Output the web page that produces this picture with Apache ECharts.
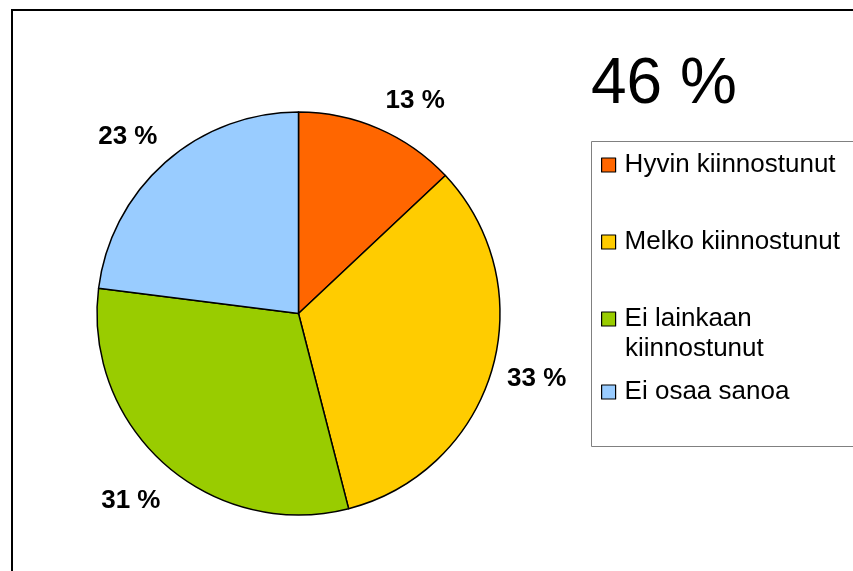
<!DOCTYPE html>
<html>
<head>
<meta charset="utf-8">
<script src="https://cdn.jsdelivr.net/npm/echarts@6/dist/echarts.min.js"></script>
<style>
html,body{margin:0;padding:0;background:#fff;}
#chart{width:853px;height:571px;}
</style>
</head>
<body>
<div id="chart"></div>
<script>
var categories = ['Hyvin kiinnostunut', 'Melko kiinnostunut', 'Ei lainkaan kiinnostunut', 'Ei osaa sanoa'];
var values = [13, 33, 31, 23];
var colors = ['#FF6600', '#FFCC00', '#99CC00', '#99CCFF'];
var headline = '46 %';

var FONT = '"Liberation Sans", Arial, sans-serif';
var chart = echarts.init(document.getElementById('chart'));

var pieData = categories.map(function (c, i) {
  return { name: c, value: values[i], itemStyle: { color: colors[i] } };
});
var labelOffsets = [[19, 13], [2, -3], [-5, 3], [-8, 8]];
var labelData = categories.map(function (c, i) {
  return { name: c, value: values[i], label: { offset: labelOffsets[i] } };
});

// split long legend names before their last word
function splitName(name) {
  if (name.length <= 20) return [name];
  var k = name.lastIndexOf(' ');
  return [name.slice(0, k), name.slice(k + 1)];
}

var legendTops = [152, 229, 306, 379];
var legends = categories.map(function (c, i) {
  return {
    data: [c],
    left: 601,
    top: legendTops[i],
    orient: 'vertical',
    itemWidth: 14,
    itemHeight: 14,
    padding: 0,
    selectedMode: false,
    icon: 'rect',
    itemStyle: { borderColor: '#000', borderWidth: 1.2 },
    textStyle: { fontSize: 26, fontFamily: FONT, color: '#000', padding: [0, 0, 0, 4] },
    formatter: function (name) { return splitName(name)[0]; }
  };
});

var extraLines = [];
categories.forEach(function (c, i) {
  var parts = splitName(c);
  if (parts.length > 1) {
    extraLines.push({
      type: 'text', x: 625, y: legendTops[i] + 13 + 30,
      style: { text: parts[1], fontSize: 26, fontFamily: FONT, fill: '#000', verticalAlign: 'middle' }
    });
  }
});

chart.setOption({
  animation: false,
  backgroundColor: '#fff',
  title: {
    text: headline, left: 591, top: 53, padding: 0,
    textStyle: { fontSize: 64, fontWeight: 'normal', fontFamily: FONT, color: '#000' }
  },
  legend: legends,
  graphic: [
    { type: 'rect', shape: { x: 12, y: 10, width: 900, height: 620 }, style: { fill: 'none', stroke: '#000', lineWidth: 2 }, silent: true },
    { type: 'rect', shape: { x: 591.5, y: 141.5, width: 300, height: 305 }, style: { fill: 'none', stroke: '#808080', lineWidth: 1 }, silent: true }
  ].concat(extraLines),
  series: [
    {
      type: 'pie',
      center: [298.5, 313.5],
      radius: 201.5,
      startAngle: 90,
      clockwise: true,
      data: pieData,
      label: { show: false },
      labelLine: { show: false },
      itemStyle: { borderColor: '#000', borderWidth: 1.5 },
      emphasis: { disabled: true }
    },
    {
      type: 'pie',
      center: [298.5, 313.5],
      radius: [232, 254],
      startAngle: 90,
      clockwise: true,
      silent: true,
      data: labelData,
      itemStyle: { color: 'rgba(0,0,0,0)', borderWidth: 0 },
      label: {
        show: true, position: 'inside', formatter: '{c} %',
        fontSize: 26, fontWeight: 'bold', fontFamily: FONT, color: '#000'
      },
      labelLine: { show: false },
      emphasis: { disabled: true }
    }
  ]
});
</script>
</body>
</html>
